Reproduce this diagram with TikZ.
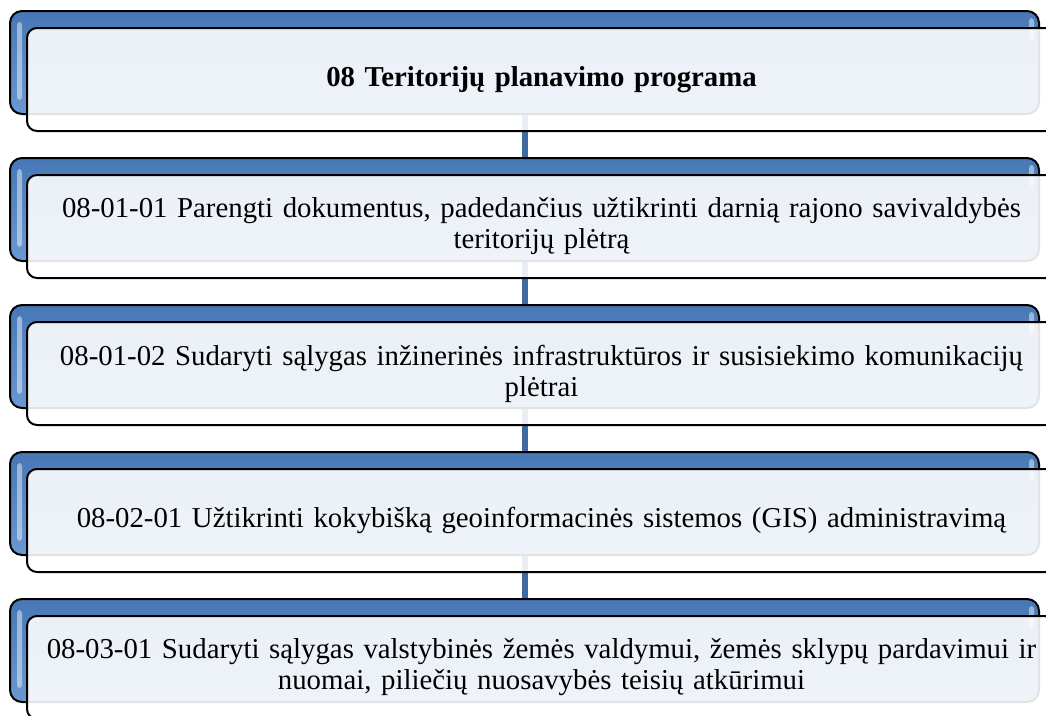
\documentclass[tikz,border=0pt]{standalone}
\usepackage{fontspec}
\setmainfont{Liberation Serif}
\tikzset{
  backbox/.style={draw=black, line width=2pt, rounded corners=12pt,
    minimum width=1029pt, minimum height=103pt, inner sep=0pt,
    top color=blue1, bottom color=blue2},
  frontbox/.style={draw=black, line width=2pt, rounded corners=10pt,
    minimum width=1029pt, minimum height=103pt, inner sep=0pt,
    fill=white, fill opacity=0.89, text opacity=1,
    align=center, text width=1020pt,
    font=\fontsize{28.8pt}{31pt}\selectfont},
  link/.style={draw=linkblue, line width=6pt},
  gloss/.style={fill=white, fill opacity=0.45, draw=none, rounded corners=3pt}
}
\definecolor{blue1}{HTML}{4777B5}
\definecolor{blue2}{HTML}{6A98D1}
\definecolor{linkblue}{HTML}{3E6AA0}
\begin{document}
\begin{tikzpicture}[x=1pt,y=-1pt]
\useasboundingbox (0,0) rectangle (1046,715);
\clip (0,0) rectangle (1046,715);
\fill[white] (0,0) rectangle (1046,715);
% back boxes
\foreach \i in {0,...,4}{
  \node[backbox] (b\i) at (524.5, 62.5+147*\i) {};
  \fill[gloss] (17, 22+147*\i) rectangle (22, 100+147*\i);
  \fill[gloss] (1029, 18+147*\i) rectangle (1034, 40+147*\i);
}
% connectors
\foreach \i/\j in {0/1,1/2,2/3,3/4}{
  \draw[link] (b\i.south) -- (b\j.north);
}
% front boxes
\node[frontbox] (f0) at (541.5, 79.5) {\textbf{08 Teritorijų planavimo programa}};
\node[frontbox] (f1) at (541.5, 79.5+147) {08-01-01 Parengti dokumentus, padedančius užtikrinti darnią rajono savivaldybės\\teritorijų plėtrą};
\node[frontbox] (f2) at (541.5, 79.5+294) {08-01-02 Sudaryti sąlygas inžinerinės infrastruktūros ir susisiekimo komunikacijų\\plėtrai};
\node[frontbox] (f3) at (541.5, 79.5+441) {08-02-01 Užtikrinti kokybišką geoinformacinės sistemos (GIS) administravimą};
\node[frontbox] (f4) at (541.5, 79.5+588) {08-03-01 Sudaryti sąlygas valstybinės žemės valdymui, žemės sklypų pardavimui ir\\nuomai, piliečių nuosavybės teisių atkūrimui};
\end{tikzpicture}
\end{document}
